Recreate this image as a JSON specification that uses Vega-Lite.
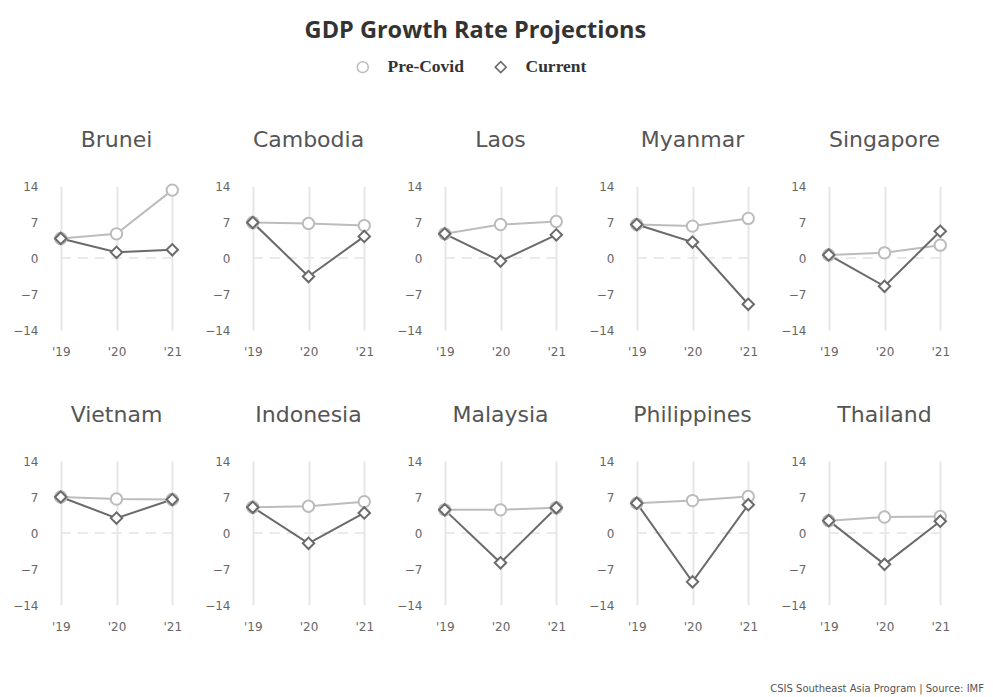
{
  "$schema": "https://vega.github.io/schema/vega-lite/v6.json",
  "background": "white",
  "padding": {"top": 18, "left": 12, "right": 6, "bottom": 4},
  "title": {"text": "GDP Growth Rate Projections", "font": "Open Sans", "fontSize": 23.5, "fontWeight": "bold", "color": "#333333", "anchor": "middle", "offset": 16, "dx": -23},
  "config": {
    "view": {"stroke": null},
    "legend": {"direction": "horizontal", "title": null, "labelFont": "Liberation Serif", "labelFontSize": 17.5, "labelFontWeight": "bold", "labelColor": "#333333", "labelOffset": 16, "symbolSize": 120, "symbolStrokeWidth": 1.5, "columnPadding": 28}
  },
  "vconcat": [
    {
      "data": {"values": [
        {"country": "Brunei", "year": "'19", "series": "Pre-Covid", "value": 3.8},
        {"country": "Brunei", "year": "'20", "series": "Pre-Covid", "value": 4.7},
        {"country": "Brunei", "year": "'21", "series": "Pre-Covid", "value": 13.2},
        {"country": "Cambodia", "year": "'19", "series": "Pre-Covid", "value": 6.9},
        {"country": "Cambodia", "year": "'20", "series": "Pre-Covid", "value": 6.7},
        {"country": "Cambodia", "year": "'21", "series": "Pre-Covid", "value": 6.3},
        {"country": "Laos", "year": "'19", "series": "Pre-Covid", "value": 4.7},
        {"country": "Laos", "year": "'20", "series": "Pre-Covid", "value": 6.5},
        {"country": "Laos", "year": "'21", "series": "Pre-Covid", "value": 7.1},
        {"country": "Myanmar", "year": "'19", "series": "Pre-Covid", "value": 6.5},
        {"country": "Myanmar", "year": "'20", "series": "Pre-Covid", "value": 6.2},
        {"country": "Myanmar", "year": "'21", "series": "Pre-Covid", "value": 7.7},
        {"country": "Singapore", "year": "'19", "series": "Pre-Covid", "value": 0.6},
        {"country": "Singapore", "year": "'20", "series": "Pre-Covid", "value": 1.0},
        {"country": "Singapore", "year": "'21", "series": "Pre-Covid", "value": 2.5},
        {"country": "Vietnam", "year": "'19", "series": "Pre-Covid", "value": 7.0},
        {"country": "Vietnam", "year": "'20", "series": "Pre-Covid", "value": 6.6},
        {"country": "Vietnam", "year": "'21", "series": "Pre-Covid", "value": 6.5},
        {"country": "Indonesia", "year": "'19", "series": "Pre-Covid", "value": 5.0},
        {"country": "Indonesia", "year": "'20", "series": "Pre-Covid", "value": 5.2},
        {"country": "Indonesia", "year": "'21", "series": "Pre-Covid", "value": 6.1},
        {"country": "Malaysia", "year": "'19", "series": "Pre-Covid", "value": 4.5},
        {"country": "Malaysia", "year": "'20", "series": "Pre-Covid", "value": 4.5},
        {"country": "Malaysia", "year": "'21", "series": "Pre-Covid", "value": 4.9},
        {"country": "Philippines", "year": "'19", "series": "Pre-Covid", "value": 5.8},
        {"country": "Philippines", "year": "'20", "series": "Pre-Covid", "value": 6.3},
        {"country": "Philippines", "year": "'21", "series": "Pre-Covid", "value": 7.1},
        {"country": "Thailand", "year": "'19", "series": "Pre-Covid", "value": 2.4},
        {"country": "Thailand", "year": "'20", "series": "Pre-Covid", "value": 3.1},
        {"country": "Thailand", "year": "'21", "series": "Pre-Covid", "value": 3.2},
        {"country": "Brunei", "year": "'19", "series": "Current", "value": 3.8},
        {"country": "Brunei", "year": "'20", "series": "Current", "value": 1.1},
        {"country": "Brunei", "year": "'21", "series": "Current", "value": 1.6},
        {"country": "Cambodia", "year": "'19", "series": "Current", "value": 6.9},
        {"country": "Cambodia", "year": "'20", "series": "Current", "value": -3.6},
        {"country": "Cambodia", "year": "'21", "series": "Current", "value": 4.2},
        {"country": "Laos", "year": "'19", "series": "Current", "value": 4.7},
        {"country": "Laos", "year": "'20", "series": "Current", "value": -0.6},
        {"country": "Laos", "year": "'21", "series": "Current", "value": 4.5},
        {"country": "Myanmar", "year": "'19", "series": "Current", "value": 6.5},
        {"country": "Myanmar", "year": "'20", "series": "Current", "value": 3.1},
        {"country": "Myanmar", "year": "'21", "series": "Current", "value": -9.0},
        {"country": "Singapore", "year": "'19", "series": "Current", "value": 0.6},
        {"country": "Singapore", "year": "'20", "series": "Current", "value": -5.5},
        {"country": "Singapore", "year": "'21", "series": "Current", "value": 5.2},
        {"country": "Vietnam", "year": "'19", "series": "Current", "value": 7.0},
        {"country": "Vietnam", "year": "'20", "series": "Current", "value": 2.9},
        {"country": "Vietnam", "year": "'21", "series": "Current", "value": 6.5},
        {"country": "Indonesia", "year": "'19", "series": "Current", "value": 5.0},
        {"country": "Indonesia", "year": "'20", "series": "Current", "value": -2.0},
        {"country": "Indonesia", "year": "'21", "series": "Current", "value": 3.9},
        {"country": "Malaysia", "year": "'19", "series": "Current", "value": 4.5},
        {"country": "Malaysia", "year": "'20", "series": "Current", "value": -5.8},
        {"country": "Malaysia", "year": "'21", "series": "Current", "value": 4.9},
        {"country": "Philippines", "year": "'19", "series": "Current", "value": 5.8},
        {"country": "Philippines", "year": "'20", "series": "Current", "value": -9.5},
        {"country": "Philippines", "year": "'21", "series": "Current", "value": 5.5},
        {"country": "Thailand", "year": "'19", "series": "Current", "value": 2.4},
        {"country": "Thailand", "year": "'20", "series": "Current", "value": -6.1},
        {"country": "Thailand", "year": "'21", "series": "Current", "value": 2.3}
      ]},
      "facet": {
        "field": "country", "type": "nominal",
        "sort": ["Brunei", "Cambodia", "Laos", "Myanmar", "Singapore", "Vietnam", "Indonesia", "Malaysia", "Philippines", "Thailand"],
        "header": {"title": null, "labelFont": "DejaVu Sans", "labelFontSize": 22, "labelColor": "#555555", "labelPadding": 28}
      },
      "columns": 5,
      "spacing": {"row": 47, "column": 15},
      "resolve": {"axis": {"x": "independent", "y": "independent"}},
      "spec": {
        "width": 145,
        "height": 144,
        "encoding": {
          "x": {"field": "year", "type": "ordinal", "sort": ["'19", "'20", "'21"], "scale": {"type": "point", "padding": 0.3},
            "axis": {"title": null, "labelAngle": 0, "grid": true, "gridColor": "#e6e6e6", "gridWidth": 2, "domain": false, "ticks": false, "labelPadding": 16, "labelColor": "#666666", "labelFont": "DejaVu Sans", "labelFontSize": 12}},
          "y": {"field": "value", "type": "quantitative", "scale": {"domain": [-14, 14], "nice": false},
            "axis": {"title": null, "values": [-14, -7, 0, 7, 14], "grid": false, "domain": false, "ticks": false, "labelPadding": 6, "labelColor": "#666666", "labelFont": "DejaVu Sans", "labelFontSize": 12}}
        },
        "layer": [
          {
            "transform": [{"filter": "datum.year === \"'19\" && datum.series === 'Current'"}],
            "mark": {"type": "rule", "strokeDash": [10, 7], "color": "#e3e3e3", "strokeWidth": 1.5},
            "encoding": {"x": {"datum": "'19"}, "x2": {"datum": "'21"}, "y": {"datum": 0}}
          },
          {
            "mark": {"type": "line", "strokeWidth": 2},
            "encoding": {
              "color": {"field": "series", "type": "nominal", "scale": {"domain": ["Pre-Covid", "Current"], "range": ["#bcbcbc", "#6a6a6a"]}},
              "detail": {"field": "series"}
            }
          },
          {
            "mark": {"type": "point", "filled": false, "fill": "white", "fillOpacity": 1, "opacity": 1, "size": 130, "strokeWidth": 2},
            "encoding": {
              "color": {"field": "series", "type": "nominal", "scale": {"domain": ["Pre-Covid", "Current"], "range": ["#bcbcbc", "#6a6a6a"]}, "legend": {"orient": "none", "legendX": 310, "legendY": -128}},
              "shape": {"field": "series", "type": "nominal", "scale": {"domain": ["Pre-Covid", "Current"], "range": ["circle", "diamond"]}, "legend": {"orient": "none", "legendX": 310, "legendY": -128}}
            }
          }
        ]
      }
    },
    {
      "width": 940,
      "height": 8,
      "data": {"values": [{"note": "CSIS Southeast Asia Program | Source: IMF"}]},
      "mark": {"type": "text", "align": "right", "baseline": "middle", "font": "DejaVu Sans", "fontSize": 10, "color": "#555555"},
      "encoding": {"text": {"field": "note"}, "x": {"value": "width"}}
    }
  ],
  "spacing": 52
}
